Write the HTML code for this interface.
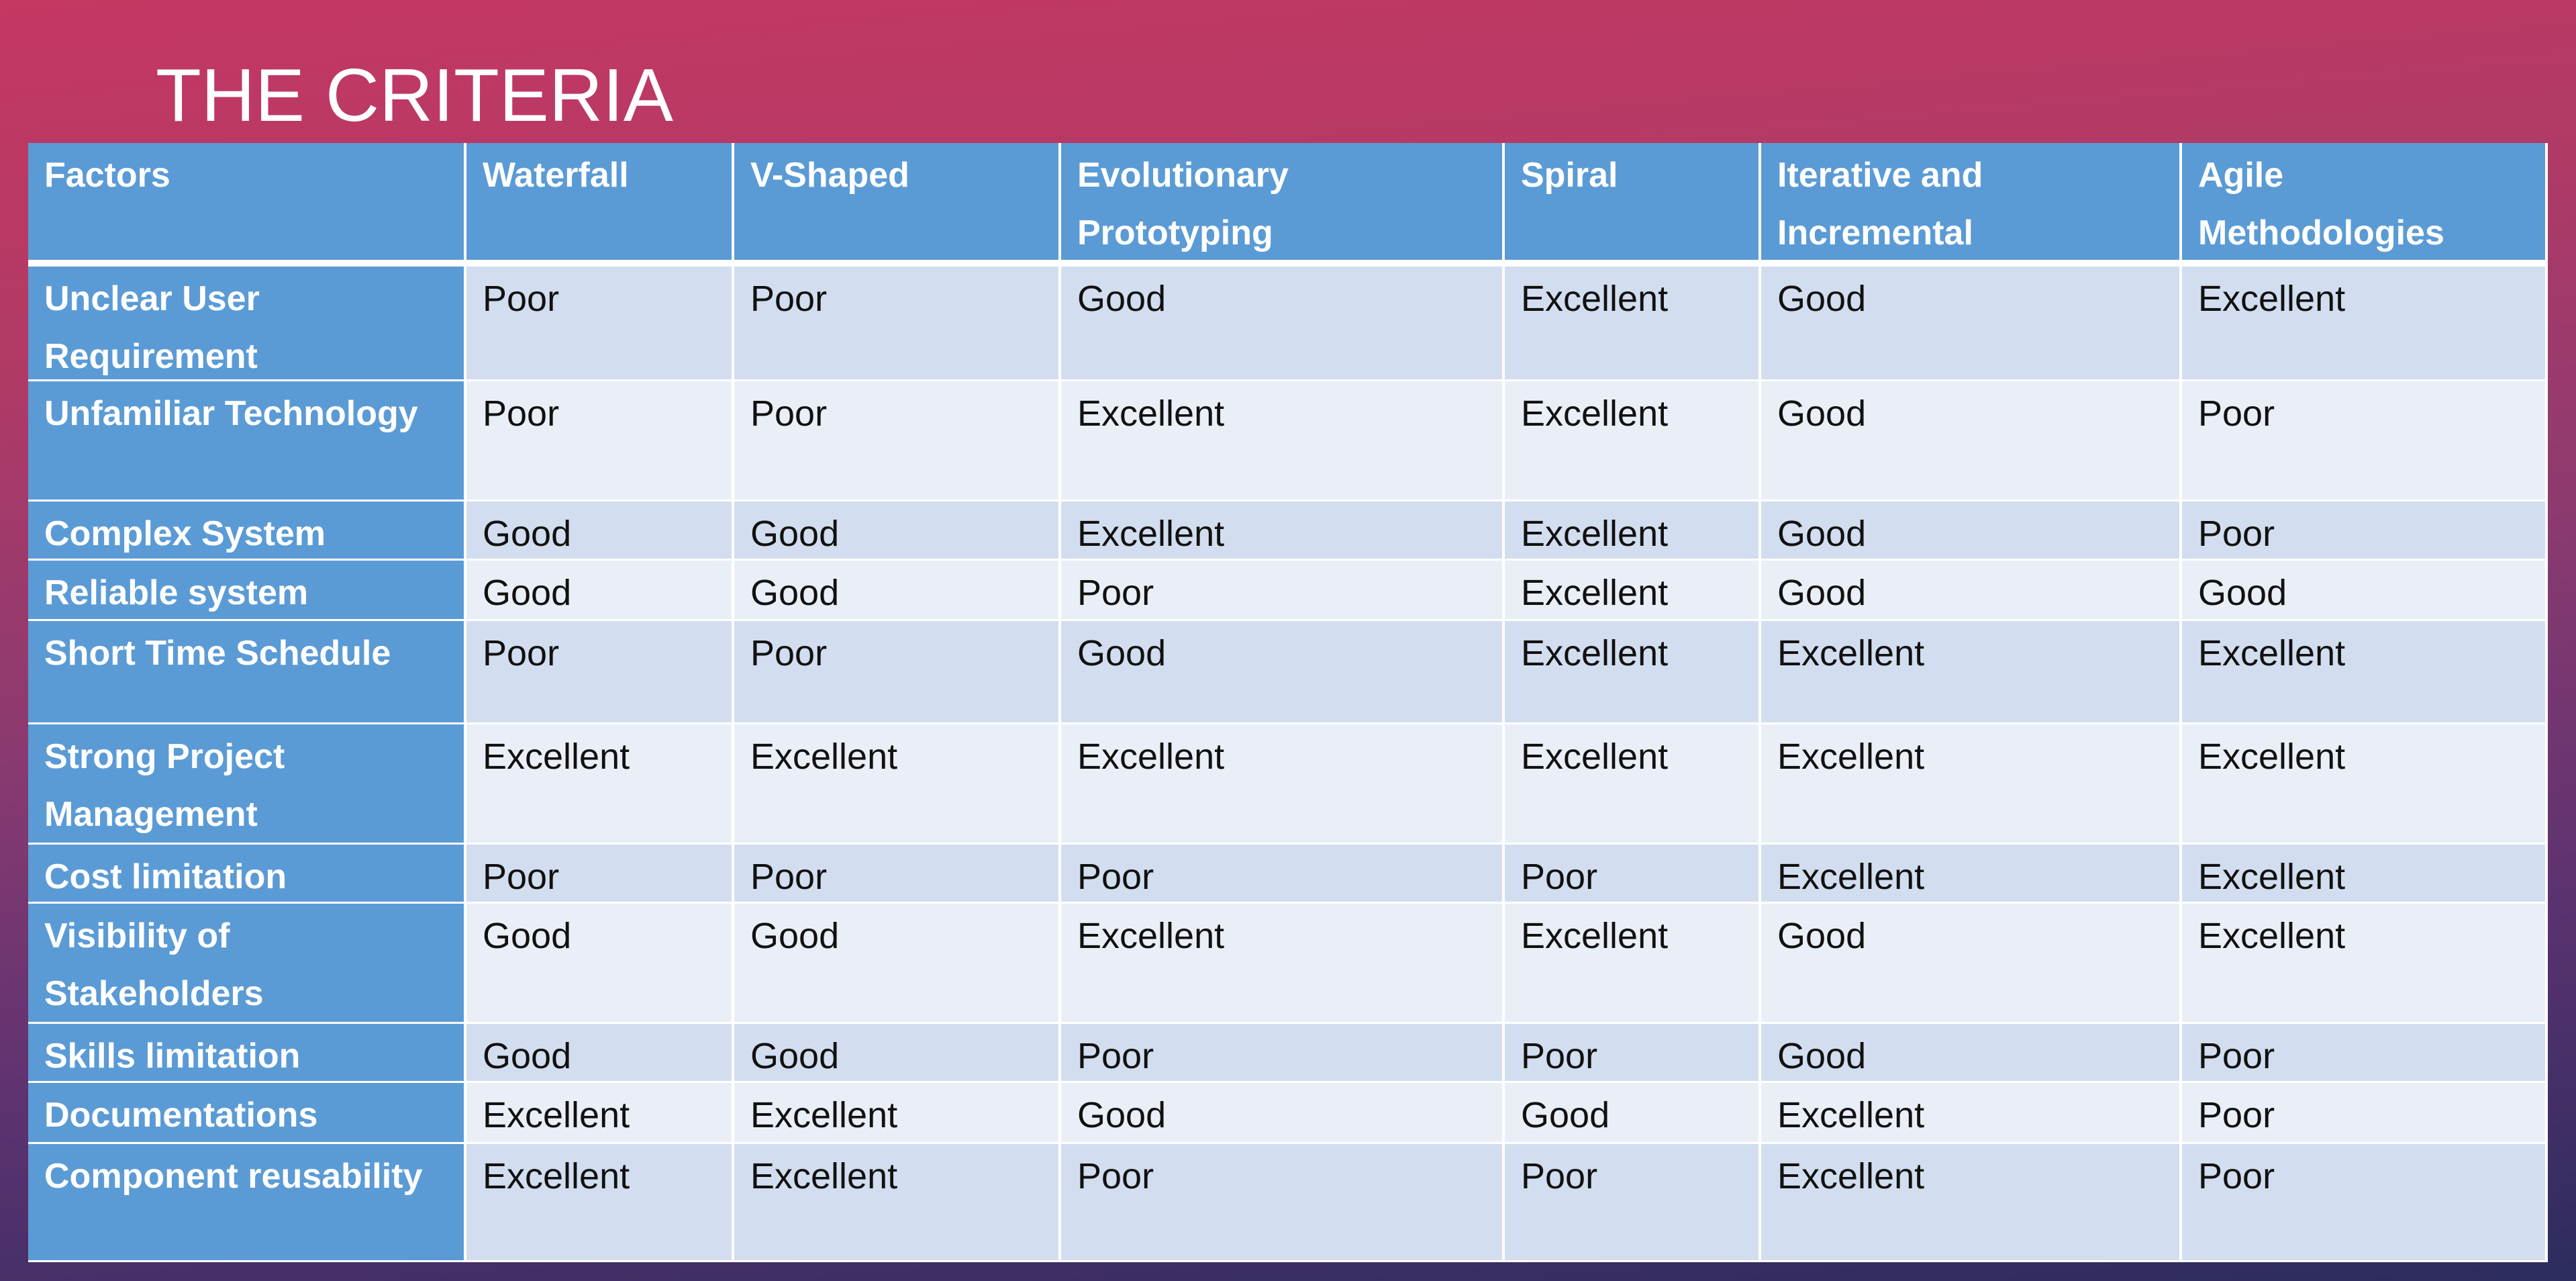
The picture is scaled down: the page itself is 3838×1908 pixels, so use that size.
<!DOCTYPE html>
<html><head><meta charset="utf-8">
<style>
html,body{margin:0;padding:0;}
body{width:3838px;height:1908px;position:relative;overflow:hidden;
background:linear-gradient(175deg,#c43862 0%,#b03a66 25%,#8a3a70 50%,#5a3270 75%,#2c2c5e 100%);
font-family:"Liberation Sans",sans-serif;}
#title{position:absolute;left:232px;top:78px;font-size:111px;line-height:normal;color:#fff;font-weight:normal;white-space:nowrap;}
.c{position:absolute;box-sizing:border-box;padding:5px 0 0 24px;font-size:54px;line-height:86px;color:#111;border-right:4px solid #fff;border-bottom:3px solid #fff;white-space:nowrap;overflow:hidden;}
.h{background:#5b9bd5;color:#fff;font-weight:bold;font-size:52px;}
.o{background:#d2deef;}
.e{background:#eaeff7;}
</style></head>
<body>
<div id="title">THE CRITERIA</div>
<div id="tbl"></div>
<script>
const colX=[42,695,1094,1581,2242,2624,3251,3796];
const rowY=[213,397,568,747,835,925,1079,1258,1346,1525,1613,1704,1880];
const headers=["Factors","Waterfall","V-Shaped","Evolutionary\nPrototyping","Spiral","Iterative and\nIncremental","Agile\nMethodologies"];
const factors=["Unclear User\nRequirement","Unfamiliar Technology","Complex System","Reliable system","Short Time Schedule","Strong Project\nManagement","Cost limitation","Visibility of\nStakeholders","Skills limitation","Documentations","Component reusability"];
const ratings=[
["Poor","Poor","Good","Excellent","Good","Excellent"],
["Poor","Poor","Excellent","Excellent","Good","Poor"],
["Good","Good","Excellent","Excellent","Good","Poor"],
["Good","Good","Poor","Excellent","Good","Good"],
["Poor","Poor","Good","Excellent","Excellent","Excellent"],
["Excellent","Excellent","Excellent","Excellent","Excellent","Excellent"],
["Poor","Poor","Poor","Poor","Excellent","Excellent"],
["Good","Good","Excellent","Excellent","Good","Excellent"],
["Good","Good","Poor","Poor","Good","Poor"],
["Excellent","Excellent","Good","Good","Excellent","Poor"],
["Excellent","Excellent","Poor","Poor","Excellent","Poor"]];
const tbl=document.getElementById('tbl');
function cell(x0,x1,y0,y1,txt,cls){
  const d=document.createElement('div');
  d.className='c '+cls;
  d.style.left=x0+'px';d.style.top=y0+'px';
  d.style.width=(x1-x0)+'px';d.style.height=(y1-y0)+'px';
  d.style.whiteSpace='pre';
  d.textContent=txt;
  tbl.appendChild(d);
  return d;
}
function slug(s){return s.toLowerCase().replace(/\s+/g,'-');}
for(let j=0;j<headers.length;j++){
  const d=cell(colX[j],colX[j+1],rowY[0],rowY[1],headers[j],'h');
  
  
  d.style.borderBottom='10px solid #fff';
}
for(let i=0;i<factors.length;i++){
  const y0=rowY[i+1],y1=rowY[i+2];
  const f=cell(colX[0],colX[1],y0,y1,factors[i],'h');
  
  
  for(let j=0;j<6;j++){
    const d=cell(colX[j+1],colX[j+2],y0,y1,ratings[i][j],i%2===0?'o':'e');
    
    
  }
}
</script>
</body></html>
